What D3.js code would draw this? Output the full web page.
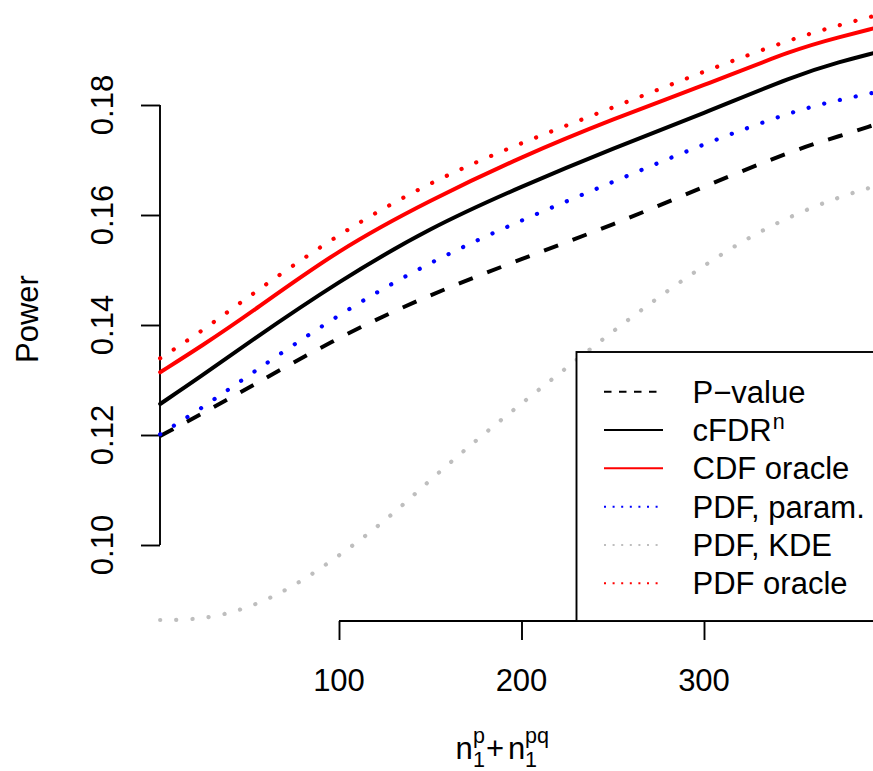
<!DOCTYPE html>
<html>
<head>
<meta charset="utf-8">
<script src="https://cdn.jsdelivr.net/npm/d3@7"></script>
<style>
  html, body { margin: 0; padding: 0; background: #fff; }
  svg { display: block; font-family: "Liberation Sans", Arial, Helvetica, sans-serif; }
</style>
</head>
<body>
<svg id="chart" width="873" height="771"></svg>
<script>
// ---- data ----
const xVals     = [2, 25, 50, 100, 150, 200, 250, 300, 350, 375, 393];
const pValue    = [0.11982, 0.12388, 0.12848, 0.13788, 0.14558, 0.15200, 0.15818, 0.16515, 0.17194, 0.17440, 0.17636];
const cfdr      = [0.12564, 0.13078, 0.13673, 0.14800, 0.15773, 0.16520, 0.17210, 0.17850, 0.18540, 0.18790, 0.18945];
const cdfOracle = [0.13140, 0.13624, 0.14182, 0.15382, 0.16273, 0.17060, 0.17745, 0.18355, 0.19020, 0.19240, 0.19395];
const pdfParam  = [0.12013, 0.12491, 0.13073, 0.14203, 0.15155, 0.15909, 0.16600, 0.17297, 0.17903, 0.18100, 0.18224];
const pdfOracle = [0.13394, 0.13891, 0.14509, 0.15667, 0.16606, 0.17315, 0.17951, 0.18613, 0.19224, 0.19460, 0.19618];
const kdeX      = [2, 25, 50, 75, 100, 125, 150, 175, 200, 225, 250, 275, 300, 325, 350, 375, 393];
const pdfKDE    = [0.08636, 0.08642, 0.08840, 0.09236, 0.09803, 0.10424, 0.11185, 0.11903, 0.12573, 0.13231, 0.13885, 0.14503, 0.15085, 0.15606, 0.16018, 0.16340, 0.16515];

const xTicks = [100, 200, 300];
const yTicks = [0.10, 0.12, 0.14, 0.16, 0.18];
const yTickLabels = ["0.10", "0.12", "0.14", "0.16", "0.18"];
const legendLabels = ["P\u2212value", "cFDR", "CDF oracle", "PDF, param.", "PDF, KDE", "PDF oracle"];

// ---- drawing ----
const svg = d3.select("#chart");
const x = d3.scaleLinear().domain([0, 400]).range([156.5, 886.5]);
const y = d3.scaleLinear().domain([0.10, 0.18]).range([545, 105]);
const yBottom = 0.10 - 76 / 5500; // bottom edge of plot region (axis position)
const axisY = y(yBottom);
const axisX = 160;
const FS = 31;

const series = [
  { xs: xVals, ys: pValue,    color: "#000000", width: 4, dash: "15,15.5", cap: "butt" },
  { xs: xVals, ys: cfdr,      color: "#000000", width: 4, dash: null, cap: "round" },
  { xs: xVals, ys: cdfOracle, color: "#FF0000", width: 4, dash: null, cap: "round" },
  { xs: xVals, ys: pdfParam,  color: "#0000FF", width: 4.2, dash: "0.1,16.1", cap: "round" },
  { xs: kdeX,  ys: pdfKDE,    color: "#BEBEBE", width: 4.2, dash: "0.1,16.1", cap: "round" },
  { xs: xVals, ys: pdfOracle, color: "#FF0000", width: 4.2, dash: "0.1,16.1", cap: "round" }
];

const line = d3.line().x(d => x(d[0])).y(d => y(d[1])).curve(d3.curveBasis);

// axes
const gx = svg.append("g").attr("transform", `translate(0,${axisY})`)
  .call(d3.axisBottom(x).tickValues(xTicks).tickSize(19).tickSizeOuter(0).tickPadding(0));
gx.select(".domain").remove();
gx.selectAll(".tick line").attr("stroke", "#000").attr("stroke-width", 1.9);
gx.selectAll(".tick text").remove();
gx.append("line").attr("x1", x(100)).attr("x2", x(400)).attr("y1", 0).attr("y2", 0)
  .attr("stroke", "#000").attr("stroke-width", 1.9);
svg.append("g").selectAll("text").data(xTicks).join("text")
  .attr("x", d => x(d)).attr("y", 690.5).attr("text-anchor", "middle")
  .attr("font-size", FS).attr("fill", "#000").text(d => d);

const gy = svg.append("g").attr("transform", `translate(${axisX},0)`)
  .call(d3.axisLeft(y).tickValues(yTicks).tickSize(19).tickSizeOuter(0));
gy.select(".domain").remove();
gy.selectAll(".tick line").attr("stroke", "#000").attr("stroke-width", 1.9);
gy.selectAll(".tick text").remove();
gy.append("line").attr("x1", 0).attr("x2", 0).attr("y1", y(0.10)).attr("y2", y(0.18))
  .attr("stroke", "#000").attr("stroke-width", 1.9);
svg.append("g").selectAll("text").data(yTicks).join("text")
  .attr("transform", d => `translate(113,${y(d)}) rotate(-90)`)
  .attr("text-anchor", "middle").attr("font-size", FS).attr("fill", "#000")
  .text((d, i) => yTickLabels[i]);

// axis titles
svg.append("text").attr("transform", "translate(38,319) rotate(-90)")
  .attr("text-anchor", "middle").attr("font-size", FS).attr("fill", "#000").text("Power");

const xl = svg.append("g").attr("fill", "#000");
xl.append("text").attr("x", 455.5).attr("y", 759).attr("font-size", FS).text("n");
xl.append("text").attr("x", 473).attr("y", 742.5).attr("font-size", 21.5).text("p");
xl.append("text").attr("x", 473).attr("y", 766.5).attr("font-size", 21.5).text("1");
xl.append("text").attr("x", 486).attr("y", 759).attr("font-size", FS).text("+");
xl.append("text").attr("x", 508).attr("y", 759).attr("font-size", FS).text("n");
xl.append("text").attr("x", 525).attr("y", 742.5).attr("font-size", 21.5).text("pq");
xl.append("text").attr("x", 525).attr("y", 766.5).attr("font-size", 21.5).text("1");

// series lines
svg.append("g").selectAll("path").data(series).join("path")
  .attr("d", s => line(s.xs.map((v, i) => [v, s.ys[i]])))
  .attr("fill", "none")
  .attr("stroke", s => s.color)
  .attr("stroke-width", s => s.width)
  .attr("stroke-dasharray", s => s.dash)
  .attr("stroke-linecap", s => s.cap)
  .attr("stroke-linejoin", "round");

// legend
const lg = svg.append("g");
lg.append("rect").attr("x", 576.5).attr("y", 352).attr("width", 400).attr("height", axisY - 352)
  .attr("fill", "#fff").attr("stroke", "#000").attr("stroke-width", 1.9);
const legendDash = ["7.5,7.5", null, null, "2,6.6", "2,6.6", "2,6.6"];
const rowY = [391.7, 430, 468.3, 506.7, 545, 583.3];
series.forEach((s, i) => {
  lg.append("line").attr("x1", 604).attr("x2", 663).attr("y1", rowY[i]).attr("y2", rowY[i])
    .attr("stroke", s.color).attr("stroke-width", 1.9)
    .attr("stroke-dasharray", legendDash[i]).attr("stroke-linecap", "butt");
  const t = lg.append("text").attr("x", 692.5).attr("y", rowY[i] + 11)
    .attr("font-size", FS).attr("fill", "#000").text(legendLabels[i]);
  if (i === 1) {
    t.append("tspan").attr("font-size", 21.5).attr("dx", 1).attr("dy", -12).text("n");
  }
});
</script>
</body>
</html>
